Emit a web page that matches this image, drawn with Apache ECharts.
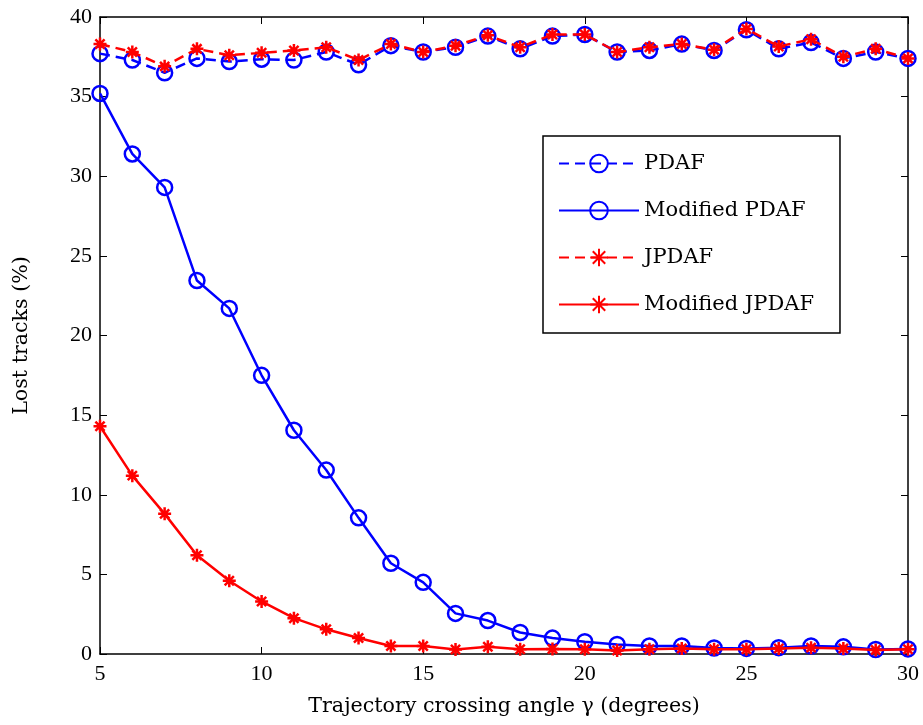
<!DOCTYPE html>
<html><head><meta charset="utf-8">
<script src="https://cdn.jsdelivr.net/npm/echarts@6/dist/echarts.min.js"></script>
<style>html,body{margin:0;padding:0;background:#fff}#c{width:923px;height:725px}</style>
</head><body><div id="c"></div>
<script>
const angles = [5,6,7,8,9,10,11,12,13,14,15,16,17,18,19,20,21,22,23,24,25,26,27,28,29,30];
const pdaf = [37.7,37.3,36.5,37.4,37.2,37.35,37.3,37.8,37.0,38.2,37.8,38.1,38.8,38.0,38.8,38.9,37.8,37.9,38.3,37.9,39.2,38.0,38.4,37.4,37.8,37.4];
const modPdaf = [35.2,31.4,29.3,23.45,21.7,17.5,14.05,11.55,8.55,5.7,4.5,2.55,2.1,1.35,1.0,0.77,0.6,0.5,0.5,0.38,0.35,0.4,0.5,0.45,0.28,0.32];
const jpdaf = [38.3,37.8,36.9,38.0,37.6,37.75,37.9,38.1,37.3,38.3,37.8,38.2,38.85,38.1,38.9,38.9,37.8,38.1,38.3,37.95,39.25,38.15,38.6,37.5,38.0,37.4];
const modJpdaf = [14.3,11.2,8.8,6.2,4.6,3.3,2.25,1.55,1.0,0.5,0.5,0.28,0.45,0.3,0.32,0.3,0.22,0.3,0.35,0.3,0.3,0.35,0.4,0.35,0.25,0.3];
const xTicks = [5,10,15,20,25,30];
const yTicks = [0,5,10,15,20,25,30,35,40];

const FONT = 'Liberation Serif';
const TFONT = 'DejaVu Serif';
const BLUE = '#0000ff', RED = '#ff0000';
const STAR = 'path://M0,-1L0,1M-1,0L1,0M-0.707,-0.707L0.707,0.707M-0.707,0.707L0.707,-0.707';
const pairs = ys => angles.map((x,i)=>[x, ys[i]]);

const chart = echarts.init(document.getElementById('c'), null, {renderer:'canvas'});
const axisCommon = {
  axisLine:{show:true, onZero:false, lineStyle:{color:'#000', width:1.5}},
  axisTick:{show:true, inside:true, length:7, lineStyle:{color:'#000', width:1}},
  splitLine:{show:false}
};
function lineSeries(name, ys, color, dashed, star){
  return {
    name, type:'line', data: pairs(ys),
    symbol: star ? STAR : 'circle',
    symbolSize: star ? 13 : 15,
    showAllSymbol:true,
    lineStyle:{color, width:2.5, type: dashed ? [10,6] : 'solid'},
    itemStyle:{color: star ? color : 'rgba(0,0,0,0)', borderColor:color, borderWidth:2.5},
    emphasis:{disabled:true},
    animation:false,
    z: star ? 3 : 2
  };
}
chart.setOption({
  animation:false,
  textStyle:{fontFamily:FONT},
  grid:{left:100, right:15, top:17, bottom:71, containLabel:false},
  xAxis:[
    Object.assign({type:'value', min:5, max:30, interval:5, position:'bottom',
      name:'Trajectory crossing angle \u03b3 (degrees)', nameLocation:'middle', nameGap:42,
      nameTextStyle:{fontFamily:TFONT, fontSize:20.6, color:'#000'},
      axisLabel:{fontFamily:FONT, fontSize:22, color:'#000', margin:9}}, axisCommon),
    Object.assign({type:'value', min:5, max:30, interval:5, position:'top',
      axisLabel:{show:false}}, axisCommon)
  ],
  yAxis:[
    Object.assign({type:'value', min:0, max:40, interval:5, position:'left',
      name:'Lost tracks (%)', nameLocation:'middle', nameGap:68,
      nameTextStyle:{fontFamily:TFONT, fontSize:20.6, color:'#000'},
      axisLabel:{fontFamily:FONT, fontSize:22, color:'#000', margin:8}}, axisCommon),
    Object.assign({type:'value', min:0, max:40, interval:5, position:'right',
      axisLabel:{show:false}}, axisCommon)
  ],
  legend:{
    orient:'vertical', left:543, top:136,
    backgroundColor:'#fff', borderColor:'#000', borderWidth:1.5, borderRadius:0,
    padding:[17,26,18,15], itemGap:26, itemWidth:80, itemHeight:22,
    textStyle:{fontFamily:TFONT, fontSize:21, color:'#000'},
    data:['PDAF','Modified PDAF','JPDAF','Modified JPDAF']
  },
  series:[
    lineSeries('PDAF', pdaf, BLUE, true, false),
    lineSeries('Modified PDAF', modPdaf, BLUE, false, false),
    lineSeries('JPDAF', jpdaf, RED, true, true),
    lineSeries('Modified JPDAF', modJpdaf, RED, false, true)
  ]
});
</script></body></html>
